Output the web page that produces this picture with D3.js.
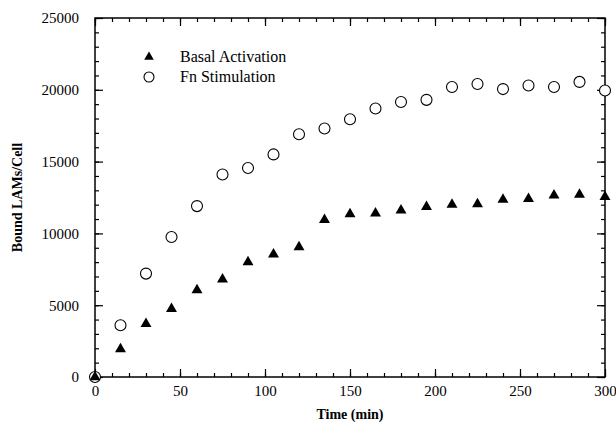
<!DOCTYPE html>
<html>
<head>
<meta charset="utf-8">
<script src="https://cdn.jsdelivr.net/npm/d3@7"></script>
<style>
  body { margin: 0; background: #fff; }
</style>
</head>
<body>
<div class="chart-container"></div>
<script>
const timeMin = [0, 15, 30, 45, 60, 75, 90, 105, 120, 135, 150, 165, 180, 195, 210, 225, 240, 255, 270, 285, 300];
const basalActivation = [0, 1950, 3700, 4750, 6050, 6800, 8000, 8550, 9050, 10950, 11350, 11400, 11600, 11850, 12000, 12050, 12350, 12400, 12650, 12700, 12550];
const fnStimulation = [0, 3600, 7200, 9750, 11900, 14100, 14550, 15500, 16900, 17300, 17950, 18700, 19150, 19300, 20200, 20400, 20050, 20300, 20200, 20550, 19950];
const xTicks = [0, 50, 100, 150, 200, 250, 300];
const yTicks = [0, 5000, 10000, 15000, 20000, 25000];
const seriesNames = ["Basal Activation", "Fn Stimulation"];

const width = 616, height = 426;
const margin = { top: 18, right: 11, bottom: 49, left: 95 };
const serif = "'Liberation Serif', 'Times New Roman', 'DejaVu Serif', serif";

const svg = d3.select(".chart-container")
  .append("svg")
  .attr("width", width)
  .attr("height", height)
  .attr("font-family", serif);

const xScale = d3.scaleLinear()
  .domain([0, 300])
  .range([margin.left, width - margin.right]);

const yScale = d3.scaleLinear()
  .domain([0, 25000])
  .range([height - margin.bottom, margin.top]);

const x0 = xScale.range()[0], x1 = xScale.range()[1];
const y0 = yScale.range()[0], y1 = yScale.range()[1];

// minor ticks every 10 min / 1000 units, all pointing inward
const xMinor = d3.range(0, 301, 10);
const yMinor = d3.range(0, 25001, 1000);

function styleAxis(g) {
  g.attr("font-family", serif);
  g.select(".domain").remove();
  g.selectAll(".tick line").attr("stroke", "#000").attr("stroke-width", 1.2);
  g.selectAll(".tick text").attr("fill", "#000").attr("font-size", 15);
}

svg.append("g")
  .attr("transform", `translate(0,${y0})`)
  .call(d3.axisBottom(xScale).tickValues(xMinor).tickFormat("").tickSizeInner(-4).tickSizeOuter(0))
  .call(styleAxis);
svg.append("g")
  .attr("transform", `translate(0,${y1})`)
  .call(d3.axisTop(xScale).tickValues(xMinor).tickFormat("").tickSizeInner(-4).tickSizeOuter(0))
  .call(styleAxis);
svg.append("g")
  .attr("transform", `translate(${x0},0)`)
  .call(d3.axisLeft(yScale).tickValues(yMinor).tickFormat("").tickSizeInner(-4).tickSizeOuter(0))
  .call(styleAxis);
svg.append("g")
  .attr("transform", `translate(${x1},0)`)
  .call(d3.axisRight(yScale).tickValues(yMinor).tickFormat("").tickSizeInner(-4).tickSizeOuter(0))
  .call(styleAxis);

// major ticks with labels
svg.append("g")
  .attr("transform", `translate(0,${y0})`)
  .call(d3.axisBottom(xScale).tickValues(xTicks).tickFormat(d3.format("d")).tickSizeInner(-8).tickSizeOuter(0).tickPadding(8))
  .call(styleAxis);

svg.append("g")
  .attr("transform", `translate(${x0},0)`)
  .call(d3.axisLeft(yScale).tickValues(yTicks).tickFormat(d3.format("d")).tickSizeInner(-8).tickSizeOuter(0).tickPadding(16))
  .call(styleAxis);

svg.append("g")
  .attr("transform", `translate(0,${y1})`)
  .call(d3.axisTop(xScale).tickValues(xTicks).tickFormat("").tickSizeInner(-8).tickSizeOuter(0))
  .call(styleAxis);
svg.append("g")
  .attr("transform", `translate(${x1},0)`)
  .call(d3.axisRight(yScale).tickValues(yTicks).tickFormat("").tickSizeInner(-8).tickSizeOuter(0))
  .call(styleAxis);

// frame
svg.append("rect")
  .attr("x", x0)
  .attr("y", y1)
  .attr("width", x1 - x0)
  .attr("height", y0 - y1)
  .attr("fill", "none")
  .attr("stroke", "#000")
  .attr("stroke-width", 1.5);

// axis titles
svg.append("text")
  .attr("x", (x0 + x1) / 2)
  .attr("y", 419)
  .attr("text-anchor", "middle")
  .attr("font-size", 14)
  .attr("font-weight", "bold")
  .text("Time (min)");

svg.append("text")
  .attr("transform", `translate(22,${(y0 + y1) / 2}) rotate(-90)`)
  .attr("text-anchor", "middle")
  .attr("font-size", 14)
  .attr("font-weight", "bold")
  .text("Bound LAMs/Cell");

// data
const triangle = d3.symbol().type(d3.symbolTriangle).size(52);

svg.append("g")
  .selectAll("circle")
  .data(timeMin.map((t, i) => ({ t, v: fnStimulation[i] })))
  .enter().append("circle")
  .attr("cx", d => xScale(d.t))
  .attr("cy", d => yScale(d.v))
  .attr("r", 5.5)
  .attr("fill", "#fff")
  .attr("stroke", "#000")
  .attr("stroke-width", 1.1);

svg.append("g")
  .selectAll("path")
  .data(timeMin.map((t, i) => ({ t, v: basalActivation[i] })))
  .enter().append("path")
  .attr("d", triangle)
  .attr("transform", d => `translate(${xScale(d.t)},${yScale(d.v)})`)
  .attr("fill", "#000");

// legend
const legend = svg.append("g").attr("transform", "translate(149,57)");
legend.append("path")
  .attr("d", d3.symbol().type(d3.symbolTriangle).size(40))
  .attr("fill", "#000");
legend.append("circle")
  .attr("cy", 20)
  .attr("r", 5)
  .attr("fill", "#fff")
  .attr("stroke", "#000")
  .attr("stroke-width", 1.1);
legend.selectAll("text")
  .data(seriesNames)
  .enter().append("text")
  .attr("x", 31)
  .attr("y", (d, i) => i * 20 + 5)
  .attr("font-size", 16)
  .text(d => d);
</script>
</body>
</html>
